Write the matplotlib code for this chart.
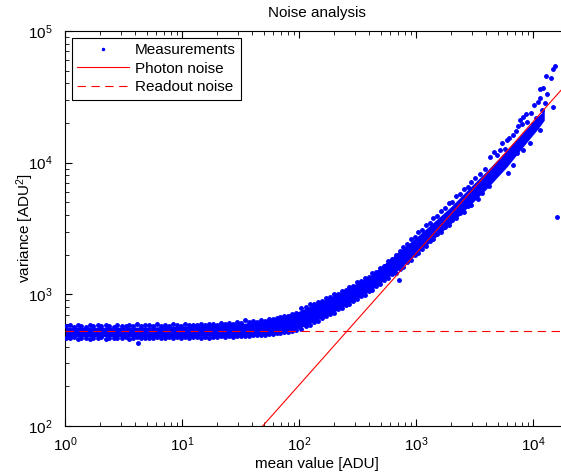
import matplotlib
matplotlib.use("Agg")
import matplotlib.pyplot as plt

plt.rcParams['font.family'] = ['Liberation Sans', 'DejaVu Sans']
plt.rcParams['mathtext.fontset'] = 'custom'
plt.rcParams['mathtext.rm'] = 'Liberation Sans'
plt.rcParams['mathtext.it'] = 'Liberation Sans:italic'
plt.rcParams['lines.scale_dashes'] = False

# dichter Kern des Messbandes
band_x = [1, 2, 5, 10, 20, 40, 70, 100, 200, 400, 700, 1000, 1500, 2000, 3000, 4000, 6000, 8000, 11000, 12500]
band_lo = [478, 478, 478, 478, 482, 490, 515, 550, 735, 1050, 1530, 2000, 2750, 3450, 4900, 6300, 9300, 12800, 18000, 21000]
band_hi = [560, 562, 565, 572, 585, 610, 680, 745, 985, 1370, 2080, 2700, 3700, 4650, 6700, 8600, 12500, 16500, 22500, 25000]

# Messpunkte, flacher Bereich (oberer und unterer Rand)
low_x = [1.02, 1.1, 1.19, 1.28, 1.38, 1.5, 1.62, 1.75, 1.9, 2.05, 2.22, 2.4, 2.6, 2.8, 3.05,
         3.3, 3.55, 3.85, 4.15, 4.5, 4.85, 5.25, 5.7, 6.15, 6.65, 7.2, 7.8, 8.4, 9.1, 9.85,
         10.6, 11.5, 12.4, 13.4, 14.5, 15.7, 17, 18.4, 19.9, 21.5, 23.2, 25.1, 27.2, 29.4, 31.8,
         34.4, 37.2, 40.2, 43.5, 47, 50.8, 55, 59.5, 64.3, 69.5, 75.2, 81.3, 88, 95]
low_up = [572, 580, 568, 585, 575, 566, 588, 574, 580, 570, 586, 576, 568, 590, 578,
          572, 584, 575, 592, 570, 580, 586, 574, 592, 578, 584, 572, 595, 582, 578,
          596, 585, 590, 580, 598, 588, 594, 600, 586, 604, 596, 610, 600, 612, 606,
          640, 618, 624, 615, 635, 628, 648, 645, 662, 668, 682, 690, 705, 718]
low_dn = [468, 462, 472, 458, 466, 470, 460, 468, 464, 472, 458, 466, 470, 462, 468,
          474, 460, 466, 472, 464, 470, 462, 468, 474, 466, 470, 476, 464, 472, 468,
          474, 466, 472, 478, 470, 474, 468, 478, 474, 480, 476, 482, 478, 484, 480,
          486, 484, 490, 488, 494, 492, 498, 500, 506, 510, 516, 520, 528, 536]

# Messpunkte, Übergangsbereich
mid_x = [105, 115, 125, 135, 145, 158, 170, 185, 200, 215, 232, 250, 270, 290, 315,
         340, 365, 395, 425, 460, 495, 535, 580, 625, 675, 725, 780, 840, 905, 975,
         1050, 1130, 1220, 1310, 1410, 1520, 1640, 1770, 1900, 2050, 2210, 2380, 2560, 2760, 2970]
mid_up = [790, 800, 840, 850, 880, 895, 930, 950, 1000, 1010, 1060, 1085, 1140, 1160, 1240,
          1260, 1330, 1360, 1440, 1480, 1580, 1640, 1780, 1850, 2000, 2120, 2300, 2400, 2620, 2720,
          2950, 3080, 3380, 3480, 3780, 3950, 4300, 4500, 4900, 5050, 5550, 5800, 6300, 6500, 7100]
mid_dn = [550, 575, 590, 620, 630, 665, 680, 715, 725, 770, 790, 830, 850, 895, 920,
          975, 990, 1060, 1080, 1160, 1190, 1280, 1320, 1420, 1460, 1560, 1620, 1760, 1820, 1980,
          2060, 2220, 2310, 2520, 2620, 2850, 2950, 3250, 3350, 3700, 3800, 4150, 4250, 4650, 4800]

# Messpunkte, Photonenrauschen-Bereich (locker gestreut)
hi_x = [3200, 3400, 3500, 3670, 3740, 3900, 4050, 4200, 4290, 4400, 4640, 4730, 4900, 5100,
        5220, 5220, 5400, 5600, 5800, 6000, 6110, 6300, 6500, 6740, 6740, 6900, 7100, 7300,
        7500, 7740, 7900, 8100, 8220, 8220, 8550, 8700, 8890, 9100, 9420, 9700, 10000, 10200,
        10600, 11000, 11500, 11500, 11500, 11900, 12200, 12700, 12900, 13200, 14300, 14800,
        14800, 15400, 16000]
hi_y = [7600, 5300, 8200, 5870, 6530, 9000, 7380, 6600, 11000, 7800, 12000, 8340, 11500, 8700,
        12500, 9100, 14000, 10200, 12800, 14900, 8340, 15500, 11000, 16200, 9600, 13500, 17500, 11800,
        19000, 21000, 14500, 19500, 22200, 12500, 15600, 23500, 20300, 17500, 14100, 24000, 19500, 27400,
        22000, 29000, 36200, 30900, 17700, 25000, 36800, 28400, 45500, 33000, 43900, 51400,
        26400, 54100, 3870]

# Ausreißer
odd_x = [4.2, 716]
odd_y = [427, 1290]

meas_x = low_x + low_x + mid_x + mid_x + hi_x + odd_x
meas_y = low_up + low_dn + mid_up + mid_dn + hi_y + odd_y

# Modelllinien
line_x = [1, 20000]
photon_y = [2.04, 40800]
readout_y = [526, 526]

fig = plt.figure(figsize=(5.61, 4.74), dpi=100)
ax = fig.add_axes([65 / 561, 48 / 474, 503 / 561, 395 / 474])

ax.fill_between(band_x, band_lo, band_hi, color='#0000ff', lw=0, zorder=2)
ax.plot(meas_x, meas_y, '.', color='#0000ff', ms=5, zorder=3, label='Measurements')
ax.plot(line_x, photon_y, '-', color='#ff0000', lw=0.8, zorder=4, label='Photon noise')
ax.plot(line_x, readout_y, '--', color='#ff0000', lw=0.8, dashes=(6, 4), zorder=4, label='Readout noise')

ax.set_xscale('log')
ax.set_yscale('log')
ax.set_xlim(1, 10 ** 4.3)
ax.set_ylim(1e2, 1e5)

ax.tick_params(which='both', direction='in', top=True, right=True, labelsize=11)
ax.tick_params(which='major', length=5)
ax.tick_params(which='minor', length=3)
ax.tick_params(axis='x', pad=7)
ax.tick_params(axis='y', pad=9)

ax.set_title('Noise analysis', fontsize=11, pad=10)
ax.set_xlabel('mean value [ADU]', fontsize=11)
ax.set_ylabel('variance [ADU$^2$]', fontsize=11)
ax.xaxis.set_label_coords(0.5, -0.079)
ax.yaxis.set_label_coords(-0.058, 0.5)

leg = ax.legend(loc='upper left', fancybox=False, edgecolor='black', framealpha=1,
                handlelength=3.4, handletextpad=0.35, fontsize=11, borderaxespad=0.45,
                borderpad=0.35, labelspacing=0.3, markerscale=0.6)
leg.get_frame().set_linewidth(0.8)

fig.savefig('out.png', dpi=100)
